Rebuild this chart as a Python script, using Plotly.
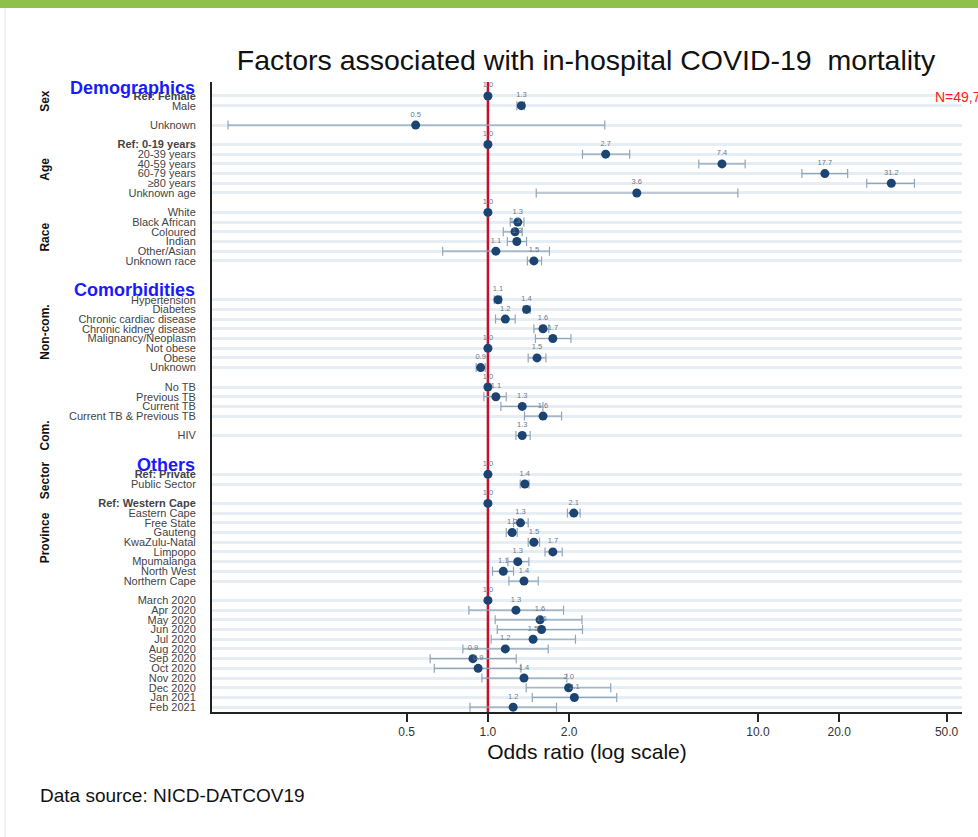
import plotly.graph_objects as go

# ---- data ----
labels = [
    "<b>Ref: Female</b>", "Male", "Unknown",
    "<b>Ref: 0-19 years</b>", "20-39 years", "40-59 years", "60-79 years", "≥80 years", "Unknown age",
    "White", "Black African", "Coloured", "Indian", "Other/Asian", "Unknown race",
    "Hypertension", "Diabetes", "Chronic cardiac disease", "Chronic kidney disease", "Malignancy/Neoplasm",
    "Not obese", "Obese", "Unknown",
    "No TB", "Previous TB", "Current TB", "Current TB & Previous TB",
    "HIV",
    "<b>Ref: Private</b>", "Public Sector",
    "<b>Ref: Western Cape</b>", "Eastern Cape", "Free State", "Gauteng", "KwaZulu-Natal", "Limpopo",
    "Mpumalanga", "North West", "Northern Cape",
    "March 2020", "Apr 2020", "May 2020", "Jun 2020", "Jul 2020", "Aug 2020", "Sep 2020", "Oct 2020",
    "Nov 2020", "Dec 2020", "Jan 2021", "Feb 2021",
]
rows = [0, 1, 3,
        5, 6, 7, 8, 9, 10,
        12, 13, 14, 15, 16, 17,
        21, 22, 23, 24, 25, 26, 27, 28,
        30, 31, 32, 33,
        35,
        39, 40,
        42, 43, 44, 45, 46, 47, 48, 49, 50,
        52, 53, 54, 55, 56, 57, 58, 59, 60, 61, 62, 63]
odds = [1.0, 1.33, 0.54,
        1.0, 2.73, 7.36, 17.7, 31.2, 3.56,
        1.0, 1.29, 1.26, 1.28, 1.07, 1.48,
        1.09, 1.39, 1.16, 1.60, 1.74, 1.0, 1.52, 0.94,
        1.0, 1.07, 1.34, 1.60,
        1.34,
        1.0, 1.37,
        1.0, 2.08, 1.32, 1.23, 1.48, 1.74, 1.29, 1.14, 1.36,
        1.0, 1.27, 1.56, 1.58, 1.47, 1.16, 0.88, 0.92, 1.36, 1.99, 2.09, 1.24]
lower = [1.0, 1.28, 0.109,
         1.0, 2.24, 6.04, 14.55, 25.3, 1.51,
         1.0, 1.21, 1.14, 1.18, 0.68, 1.40,
         1.055, 1.355, 1.067, 1.48, 1.50, 1.0, 1.41, 0.905,
         1.0, 0.966, 1.117, 1.366,
         1.27,
         1.0, 1.317,
         1.0, 1.97, 1.244, 1.169, 1.41, 1.627, 1.186, 1.04, 1.196,
         1.0, 0.85, 1.064, 1.083, 1.028, 0.808, 0.611, 0.633, 0.95, 1.386, 1.46, 0.858]
upper = [1.0, 1.366, 2.71,
         1.0, 3.35, 8.97, 21.5, 38.0, 8.43,
         1.0, 1.36, 1.34, 1.39, 1.69, 1.58,
         1.12, 1.434, 1.262, 1.68, 2.03, 1.0, 1.64, 0.977,
         1.0, 1.169, 1.598, 1.874,
         1.434,
         1.0, 1.42,
         1.0, 2.196, 1.41, 1.284, 1.553, 1.885, 1.418, 1.244, 1.536,
         1.0, 1.906, 2.23, 2.24, 2.11, 1.672, 1.273, 1.325, 1.96, 2.85, 3.0, 1.795]
ref_flags = [1, 0, 0, 1, 0, 0, 0, 0, 0, 1, 0, 0, 0, 0, 0, 0, 0, 0, 0, 0, 1, 0, 0, 1, 0, 0, 0, 0,
             1, 0, 1, 0, 0, 0, 0, 0, 0, 0, 0, 1, 0, 0, 0, 0, 0, 0, 0, 0, 0, 0, 0]

headers = ["Demographics", "Comorbidities", "Others"]
header_rows = [-0.85, 20.0, 38.0]
groups = ["Sex", "Age", "Race", "Non-com.", "Com.", "Sector", "Province"]
group_rows = [0.5, 7.6, 14.6, 24.4, 35.0, 39.6, 45.6]

xtick_vals = [0.5, 1.0, 2.0, 10.0, 20.0, 50.0]
xtick_text = ["0.5", "1.0", "2.0", "10.0", "20.0", "50.0"]
y_range = [63.5, -1.44]

FONT = "Liberation Sans Narrow, Arial Narrow, Liberation Sans, Arial, sans-serif"

err_plus = [0 if r else u - o for u, o, r in zip(upper, odds, ref_flags)]
err_minus = [0 if r else o - l for l, o, r in zip(lower, odds, ref_flags)]
point_text = [f"{v:.1f}" for v in odds]

fig = go.Figure()

# reference line at OR = 1 (drawn as a trace so it sits above the gridlines)
fig.add_trace(go.Scatter(
    x=[1, 1], y=y_range, mode="lines",
    line=dict(color="#c8102e", width=2.5), showlegend=False, hoverinfo="skip",
))

fig.add_trace(go.Scatter(
    x=odds, y=rows, mode="markers+text",
    text=point_text, textposition="top center",
    textfont=dict(size=7.5, color="#6a7a8c", family=FONT),
    marker=dict(size=9, color="#1b4472"),
    error_x=dict(type="data", symmetric=False, array=err_plus, arrayminus=err_minus,
                 color="#93a6b8", thickness=1.2, width=4.5),
    showlegend=False, cliponaxis=False,
))

plot_l, plot_w = 212, 750

def px2paper(px):
    return (px - plot_l) / plot_w

# top green band and thin left border
fig.add_shape(type="rect", xref="paper", yref="paper",
              x0=px2paper(0), x1=px2paper(978), y0=1 + 74 / 630, y1=1 + 90 / 630,
              fillcolor="#8fc04a", line=dict(width=0), layer="below")
fig.add_shape(type="line", xref="paper", yref="paper",
              x0=px2paper(5), x1=px2paper(5), y0=-125 / 630, y1=1 + 74 / 630,
              line=dict(color="#e4e4e4", width=1), layer="below")

ann = []
for h, r in zip(headers, header_rows):
    ann.append(dict(text=f"<b>{h}</b>", x=px2paper(197), xref="paper", y=r, yref="y",
                    xanchor="right", yanchor="middle", showarrow=False,
                    font=dict(size=18, color="#1a1aff", family=FONT)))
for g, r in zip(groups, group_rows):
    ann.append(dict(text=f"<b>{g}</b>", x=px2paper(45), xref="paper", y=r, yref="y",
                    showarrow=False, textangle=-90,
                    font=dict(size=12, color="#111111", family="Liberation Sans, Arial, sans-serif"),
                    xanchor="center", yanchor="middle"))

ann.append(dict(text="N=49,7", x=px2paper(933), xref="paper", y=0.1, yref="y",
                xanchor="left", yanchor="middle", showarrow=False,
                font=dict(size=14, color="#ff1a1a", family=FONT)))
ann.append(dict(text="Data source: NICD-DATCOV19", x=px2paper(38), xref="paper",
                y=-83 / 630, yref="paper", xanchor="left", yanchor="middle", showarrow=False,
                font=dict(size=19, color="#111111", family="Liberation Sans, Arial, sans-serif")))

fig.update_layout(
    width=978, height=837,
    margin=dict(l=212, r=16, t=82, b=125),
    paper_bgcolor="white", plot_bgcolor="white",
    title=dict(text="Factors associated with in-hospital COVID-19  mortality",
               x=586 / 978, xanchor="center", y=1 - 60 / 837, yanchor="middle",
               font=dict(size=28.5, color="#111111", family=FONT)),
    annotations=ann,
    xaxis=dict(type="log", range=[-1.022, 1.756],
               tickvals=xtick_vals, ticktext=xtick_text,
               ticks="outside", ticklen=8, tickwidth=1.5, tickcolor="#222",
               showline=True, linecolor="#222", linewidth=2,
               showgrid=False, zeroline=False,
               tickfont=dict(size=12, color="#333", family=FONT),
               title=dict(text="Odds ratio (log scale)", standoff=6,
                          font=dict(size=21, color="#111", family=FONT))),
    yaxis=dict(range=y_range, tickvals=rows, ticktext=labels,
               ticks="outside", ticklen=12, tickcolor="rgba(0,0,0,0)",
               showline=True, linecolor="#222", linewidth=2,
               showgrid=True, gridcolor="#e6eef3", gridwidth=2.5, zeroline=False,
               tickfont=dict(size=11, color="#444", family=FONT)),
)

fig.write_html("out.html")
